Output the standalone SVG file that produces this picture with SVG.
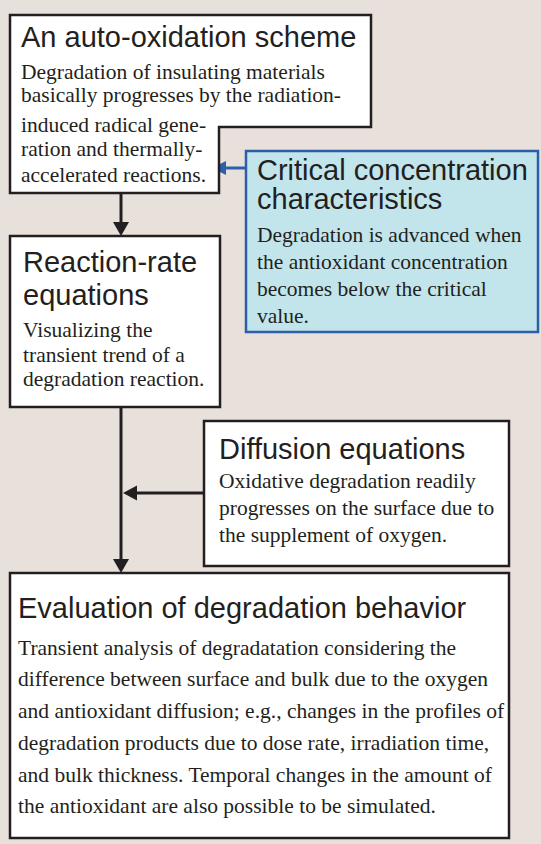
<svg xmlns="http://www.w3.org/2000/svg" width="541" height="844" viewBox="0 0 541 844">
<defs>
<style>
.bg{fill:#e8e0da}
.box{fill:#ffffff;stroke:#231f20;stroke-width:2.5}
.bbox{fill:#c2e5ec;stroke:#2d5ea8;stroke-width:2.5}
.t{font-family:"Liberation Sans",Arial,sans-serif;font-size:29px;fill:#231f20}
.b{font-family:"Liberation Serif","Times New Roman",serif;font-size:21.5px;fill:#231f20}
.c{stroke:#231f20;stroke-width:3;fill:none}
.cb{stroke:#2d5ea8;stroke-width:3;fill:none}
.h{fill:#231f20}
.hb{fill:#2d5ea8}
</style>
</defs>
<rect class="bg" x="0" y="0" width="541" height="844"/>
<g id="connectors">
<line class="c" x1="121" y1="193" x2="121" y2="224"/>
<polygon class="h" points="121,236 113,222 129,222"/>
<line class="cb" x1="246" y1="168" x2="224" y2="168"/>
<polygon class="hb" points="212,168 226,161 226,175"/>
<line class="c" x1="121" y1="407" x2="121" y2="561"/>
<polygon class="h" points="121,573 113,559 129,559"/>
<line class="c" x1="204" y1="493" x2="134" y2="493"/>
<polygon class="h" points="123,493 137,485.5 137,500.5"/>
</g>
<g id="auto-oxidation">
<polygon class="box" points="10,15 371,15 371,127 219,127 219,193 10,193"/>
<text class="t" x="21" y="47" font-size="28.5">An auto-oxidation scheme</text>
<text class="b" x="21" y="79">Degradation of insulating materials</text>
<text class="b" x="21" y="102">basically progresses by the radiation-</text>
<text class="b" x="21" y="132">induced radical gene-</text>
<text class="b" x="21" y="156">ration and thermally-</text>
<text class="b" x="21" y="182">accelerated reactions.</text>
</g>
<g id="critical">
<rect class="bbox" x="246" y="151" width="292" height="181"/>
<text class="t" x="257" y="180">Critical concentration</text>
<text class="t" x="257" y="209">characteristics</text>
<text class="b" x="257" y="242">Degradation is advanced when</text>
<text class="b" x="257" y="269">the antioxidant concentration</text>
<text class="b" x="257" y="296">becomes below the critical</text>
<text class="b" x="257" y="323">value.</text>
</g>
<g id="reaction-rate">
<rect class="box" x="10" y="236" width="210" height="171"/>
<text class="t" x="23" y="272">Reaction-rate</text>
<text class="t" x="23" y="305">equations</text>
<text class="b" x="23" y="337">Visualizing the</text>
<text class="b" x="23" y="362">transient trend of a</text>
<text class="b" x="23" y="386">degradation reaction.</text>
</g>
<g id="diffusion">
<rect class="box" x="204" y="421" width="305" height="145"/>
<text class="t" x="219" y="459">Diffusion equations</text>
<text class="b" x="219" y="488">Oxidative degradation readily</text>
<text class="b" x="219" y="515">progresses on the surface due to</text>
<text class="b" x="219" y="542">the supplement of oxygen.</text>
</g>
<g id="evaluation">
<rect class="box" x="10" y="573" width="499" height="265"/>
<text class="t" x="18" y="618">Evaluation of degradation behavior</text>
<text class="b" x="18" y="655">Transient analysis of degradatation considering the</text>
<text class="b" x="18" y="686">difference between surface and bulk due to the oxygen</text>
<text class="b" x="18" y="718">and antioxidant diffusion; e.g., changes in the profiles of</text>
<text class="b" x="18" y="750">degradation products due to dose rate, irradiation time,</text>
<text class="b" x="18" y="782">and bulk thickness. Temporal changes in the amount of</text>
<text class="b" x="18" y="813">the antioxidant are also possible to be simulated.</text>
</g>
</svg>
